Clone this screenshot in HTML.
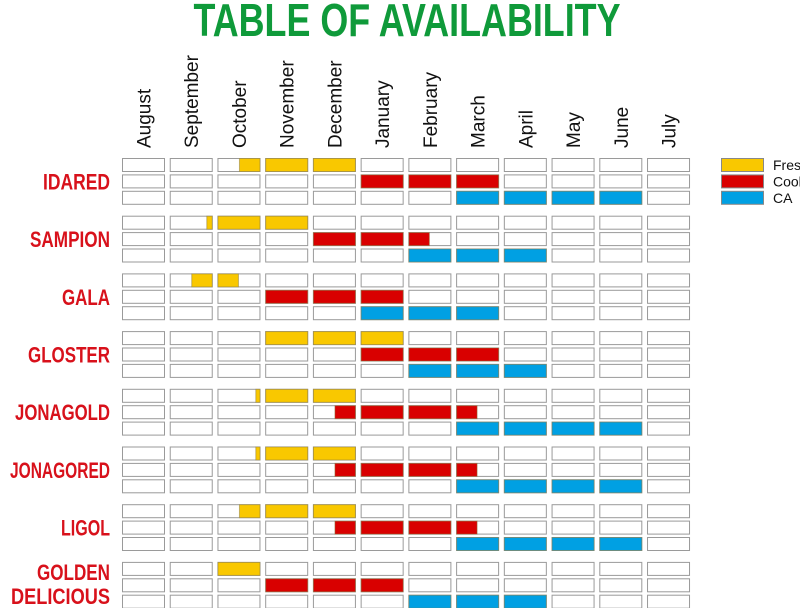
<!DOCTYPE html>
<html><head><meta charset="utf-8"><style>
body{margin:0;background:#fff}
svg{display:block}
text{font-family:"Liberation Sans Narrow","Liberation Sans",sans-serif}
</style></head><body>
<svg id="c" width="800" height="608" viewBox="0 0 800 608" xmlns="http://www.w3.org/2000/svg">
<text x="407" y="36" text-anchor="middle" font-size="46" font-weight="bold" fill="#0f9a3a" textLength="427" lengthAdjust="spacingAndGlyphs">TABLE OF AVAILABILITY</text>
<g id="legend"></g>
</svg>
<script>
const months=["August","September","October","November","December","January","February","March","April","May","June","July"];
const varieties=["IDARED","SAMPION","GALA","GLOSTER","JONAGOLD","JONAGORED","LIGOL","GOLDEN DELICIOUS"];
const labelWidths=[67,80,48,82,95,100,49,73];
const types=["Fresh","Cool","CA"];
const colors=["#f9c800","#d90000","#00a0e3"];
// ranges in months from start of August: [start,end]
const fresh=[[2.5,5],[1.85,4],[1.5,2.5],[3,6],[2.88,5],[2.88,5],[2.5,5],[2,3]];
const cool=[[5,8],[4,6.5],[3,6],[5,8],[4.5,7.5],[4.5,7.5],[4.5,7.5],[3,6]];
const ca=[[7,11],[6,9],[5,8],[6,9],[7,11],[7,11],[7,11],[6,9]];
const series=[fresh,cool,ca];

const svg=document.getElementById('c');
const NS="http://www.w3.org/2000/svg";
const x0=122,colPitch=47.73,cellW=43,y0=158,rowPitch=16.4,cellH=14,groupPitch=57.7;
function colX(i){return x0+i*colPitch;}
function rowY(g,r){return y0+g*groupPitch+r*rowPitch;}
function mk(tag,attrs){const e=document.createElementNS(NS,tag);for(const k in attrs)e.setAttribute(k,attrs[k]);svg.appendChild(e);return e;}

months.forEach((m,i)=>{
  const cx=colX(i)+cellW/2+7;
  const t=mk('text',{x:cx,y:148,'font-size':19,fill:'#111',transform:`rotate(-90 ${cx} 148)`});
  
  
  t.textContent=m;
});

varieties.forEach((v,g)=>{
  const mid=rowY(g,1)+cellH/2;
  if(v==="GOLDEN DELICIOUS"){
    ["GOLDEN","DELICIOUS"].forEach((w,k)=>{
      const t=mk('text',{x:110,y:(k?604:580)-(k?0:0),'font-size':22,'font-weight':'bold',fill:'#d8111b','text-anchor':'end',textLength:k?99:73,lengthAdjust:'spacingAndGlyphs'});
      
      
      t.textContent=w;
    });
  } else {
    const t=mk('text',{x:110,y:mid+8,'font-size':22,'font-weight':'bold',fill:'#d8111b','text-anchor':'end',textLength:labelWidths[g],lengthAdjust:'spacingAndGlyphs'});
    
    
    t.textContent=v;
  }
  for(let r=0;r<3;r++){
    const rng=series[r][g];
    for(let i=0;i<12;i++){
      const x=colX(i),y=rowY(g,r);
      const c=mk('rect',{x:x+0.5,y:y+0.5,width:cellW-1,height:cellH-1,fill:'#fff',stroke:'#9a9a9a','stroke-width':1});
      
      
      const s=Math.max(rng[0],i),e=Math.min(rng[1],i+1);
      if(e>s){
        const b=mk('rect',{x:x+(s-i)*cellW+0.5,y:y+0.5,width:(e-s)*cellW-1,height:cellH-1,fill:colors[r],stroke:'#8a7a40','stroke-opacity':0.5,'stroke-width':1});
        
        
      }
    }
  }
});

types.forEach((tp,k)=>{
  const y=158+k*16.4;
  const r=mk('rect',{x:721.5,y:y+0.5,width:42,height:13,fill:colors[k],stroke:'#888','stroke-width':1});
  
  
  const t=mk('text',{x:773,y:y+12,'font-size':14,fill:'#111'});
  
  
  t.textContent=tp;
});
</script>
</body></html>
